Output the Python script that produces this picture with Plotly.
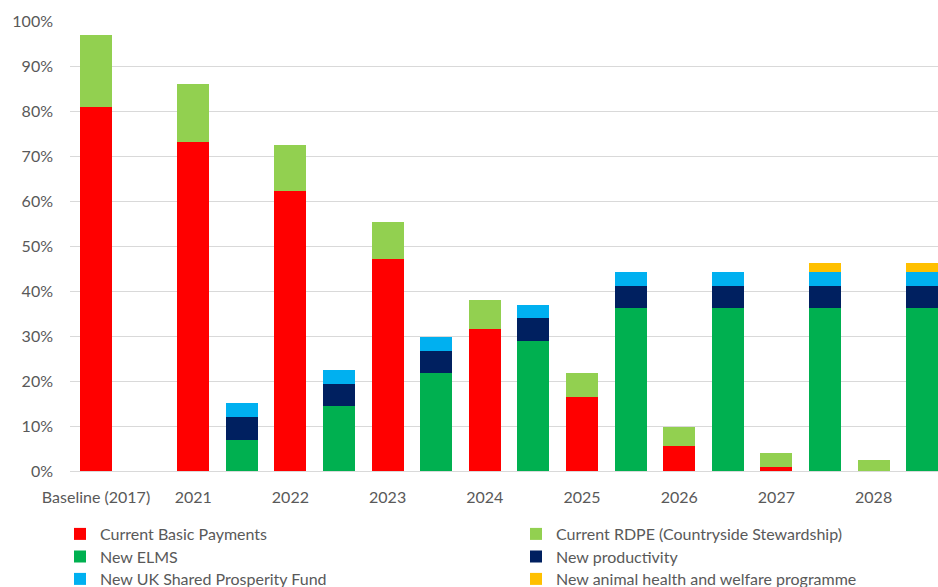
import plotly.graph_objects as go

# 18 slots: for each period a "current" bar followed by a "new" bar
slot_labels = ["Baseline (2017)", "", "2021", "", "2022", "", "2023", "", "2024", "",
               "2025", "", "2026", "", "2027", "", "2028", ""]

basic_payments = [81.0, None, 73.2, None, 62.3, None, 47.2, None, 31.5, None,
                  16.5, None, 5.6, None, 1.0, None, 0.0, None]
rdpe = [16.0, None, 12.8, None, 10.1, None, 8.1, None, 6.5, None,
        5.3, None, 4.2, None, 3.1, None, 2.4, None]
elms = [None, None, None, 7.0, None, 14.4, None, 21.8, None, 28.9,
        None, 36.3, None, 36.3, None, 36.3, None, 36.3]
productivity = [None, None, None, 5.0, None, 5.0, None, 4.8, None, 5.1,
                None, 4.9, None, 4.9, None, 4.9, None, 4.9]
ukspf = [None, None, None, 3.2, None, 3.0, None, 3.2, None, 2.8,
         None, 3.1, None, 3.1, None, 3.1, None, 3.1]
animal_health = [None, None, None, 0, None, 0, None, 0, None, 0,
                 None, 0, None, 0, None, 2.0, None, 2.0]

y_ticks = list(range(0, 101, 10))
y_tick_text = [f"{v}%" for v in y_ticks]

x = list(range(len(slot_labels)))
tick_pos = [i for i, s in enumerate(slot_labels) if s]
tick_txt = [s for s in slot_labels if s]

series_names = ["Current Basic Payments", "Current RDPE (Countryside Stewardship)",
                "New ELMS", "New productivity", "New UK Shared Prosperity Fund",
                "New animal health and welfare programme"]
series_values = [basic_payments, rdpe, elms, productivity, ukspf, animal_health]
series_colors = ["#FF0000", "#92D050", "#00B050", "#002060", "#00B0F0", "#FFC000"]

FONT = "Lato, Open Sans, sans-serif"
GREY = "#595959"
LEG_FONT = 16

# legend grid: two columns, three rows (one single-item legend per entry)
col_x = [60, 516]
row_y = [534, 556.5, 579]

fig = go.Figure()
legends = {}
for i, (name, vals, col) in enumerate(zip(series_names, series_values, series_colors)):
    key = "legend" if i == 0 else f"legend{i + 1}"
    fig.add_trace(go.Bar(x=x, y=vals, name=name,
                         marker=dict(color=col, line=dict(width=0)),
                         legend=key, showlegend=True, hoverinfo="name+y"))
    legends[key] = dict(x=col_x[i % 2] / 938, xref="container", xanchor="left",
                        y=1 - row_y[i // 2] / 587, yref="container", yanchor="middle",
                        orientation="v", font=dict(size=LEG_FONT, color=GREY),
                        bgcolor="rgba(0,0,0,0)", borderwidth=0, itemwidth=30)

fig.update_layout(
    width=938, height=587,
    showlegend=True,
    margin=dict(l=70, r=0, t=21, b=116, autoexpand=False),
    paper_bgcolor="white", plot_bgcolor="white",
    barmode="stack", bargap=0.34,
    font=dict(family=FONT, size=16, color=GREY),
    xaxis=dict(range=[-0.535, 17.325], tickvals=tick_pos, ticktext=tick_txt,
               showgrid=False, zeroline=False, showline=False, ticks="",
               tickangle=0, automargin=False,
               tickfont=dict(size=16, color=GREY), ticklabelstandoff=15),
    yaxis=dict(range=[0, 100], tickvals=y_ticks, ticktext=y_tick_text,
               showgrid=True, gridcolor="#D9D9D9", gridwidth=1,
               zeroline=True, zerolinecolor="#D9D9D9", zerolinewidth=1,
               showline=False, ticks="", automargin=False,
               tickfont=dict(size=16, color=GREY), ticklabelstandoff=16),
    **legends,
)

fig.write_html("out.html")
